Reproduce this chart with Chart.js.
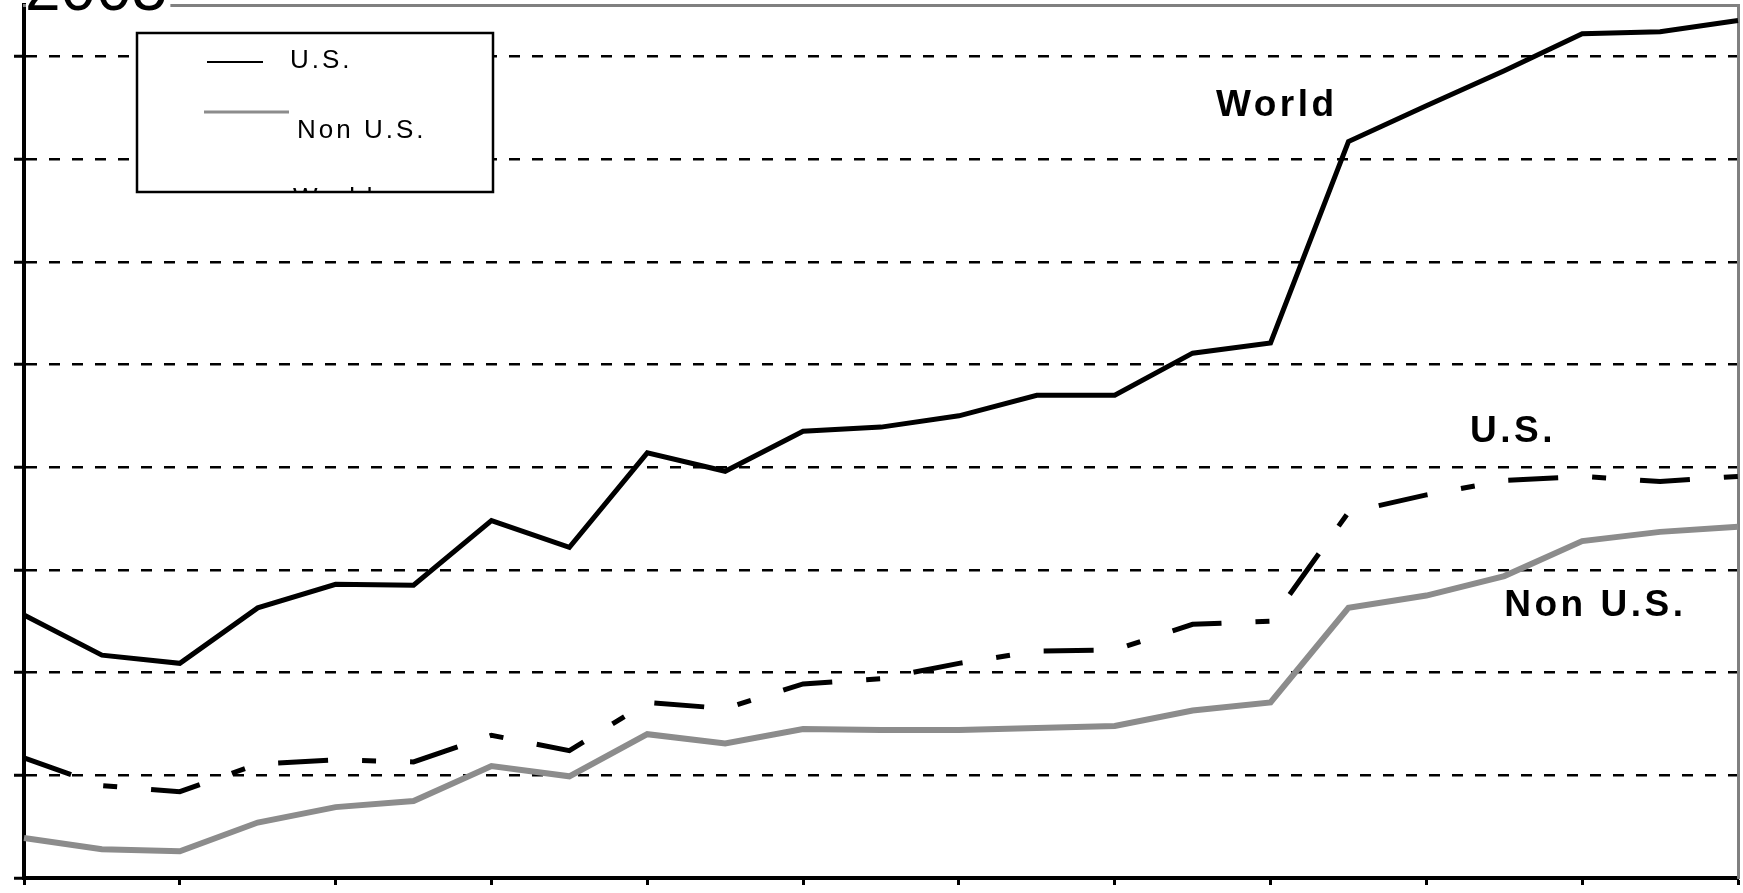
<!DOCTYPE html>
<html>
<head>
<meta charset="utf-8">
<script src="https://cdn.jsdelivr.net/npm/chart.js@4.4.1/dist/chart.umd.min.js"></script>
<style>
  html, body { margin: 0; padding: 0; background: #fff; overflow: hidden; }
  canvas { display: block; }
</style>
</head>
<body>
<canvas id="grafica" width="1743" height="893"></canvas>
<script>
// values (one gridline = 10 units, no labels shown)
const years = ['1983', '1984', '1985', '1986', '1987', '1988', '1989', '1990', '1991', '1992', '1993', '1994',
  '1995', '1996', '1997', '1998', '1999', '2000', '2001', '2002', '2003', '2004', '2005'];
const usValues = [11.7, 9.0, 8.4, 11.1, 11.5, 11.3, 13.9, 12.4, 17.1, 16.5, 18.9, 19.4,
  20.9, 22.1, 22.2, 24.7, 25.0, 35.6, 37.3, 38.7, 39.1, 38.6, 39.1];
const nonUsValues = [3.9, 2.8, 2.6, 5.4, 6.9, 7.5, 10.9, 9.9, 14.0, 13.1, 14.5, 14.4,
  14.4, 14.6, 14.8, 16.3, 17.1, 26.3, 27.5, 29.4, 32.8, 33.7, 34.2];
const worldValues = [25.6, 21.7, 20.9, 26.3, 28.6, 28.5, 34.8, 32.2, 41.4, 39.6, 43.5, 43.9,
  45.0, 47.0, 47.0, 51.1, 52.1, 71.7, 75.2, 78.6, 82.2, 82.4, 83.5];
const seriesNames = ['U.S.', 'Non U.S.', 'World'];
const title = '2005';

// legend box + labels on the lines
const overlay = {
  id: 'overlay',
  afterDraw(chart, args, opts) {
    const { ctx, chartArea, scales: { x, y } } = chart;
    const ds = chart.data.datasets;

    // cut-off title at the top
    ctx.save();
    ctx.font = '64px "Liberation Sans", Arial, sans-serif';
    const tw = ctx.measureText(opts.title).width;
    ctx.fillStyle = '#fff';
    ctx.fillRect(chartArea.left + 2, 0, tw + 2, chartArea.top + 3);
    ctx.fillStyle = '#000';
    ctx.textBaseline = 'alphabetic';
    ctx.fillText(opts.title, chartArea.left + 1, chartArea.top + 5);
    ctx.restore();

    // boxed legend
    const b = opts.box;
    ctx.save();
    ctx.fillStyle = '#fff';
    ctx.fillRect(b.left, b.top, b.right - b.left, b.bottom - b.top);
    ctx.beginPath();
    ctx.rect(b.left, b.top, b.right - b.left, b.bottom - b.top);
    ctx.clip();
    ctx.font = '26px "Liberation Sans", Arial, sans-serif';
    ctx.letterSpacing = '3px';
    ctx.textBaseline = 'middle';
    ctx.fillStyle = '#000';
    opts.entries.forEach((e, i) => {
      if (e.line) {
        ctx.strokeStyle = ds[i].borderColor;
        ctx.lineWidth = e.line.w;
        ctx.beginPath();
        ctx.moveTo(e.line.x1, e.line.y);
        ctx.lineTo(e.line.x2, e.line.y);
        ctx.stroke();
      }
      ctx.fillText(ds[i].label, e.tx, e.ty);
    });
    ctx.restore();
    ctx.save();
    ctx.strokeStyle = '#000';
    ctx.lineWidth = 2.5;
    ctx.strokeRect(b.left, b.top, b.right - b.left, b.bottom - b.top);
    ctx.restore();

    // names next to the lines
    ctx.save();
    ctx.font = 'bold 37px "Liberation Sans", Arial, sans-serif';
    ctx.letterSpacing = '3.5px';
    ctx.textBaseline = 'middle';
    ctx.fillStyle = '#000';
    opts.tags.forEach(t => {
      ctx.fillText(ds[t.ds].label, x.getPixelForValue(t.at), y.getPixelForValue(t.val));
    });
    ctx.restore();
  }
};

const ctx = document.getElementById('grafica').getContext('2d');
const chart = new Chart(ctx, {
  type: 'line',
  data: {
    labels: years,
    datasets: [
      {
        label: seriesNames[0],
        data: usValues,
        borderColor: '#000',
        borderWidth: 5,
        borderDash: [50, 34, 14, 34],
        borderCapStyle: 'butt'
      },
      {
        label: seriesNames[1],
        data: nonUsValues,
        borderColor: '#8c8c8c',
        borderWidth: 6
      },
      {
        label: seriesNames[2],
        data: worldValues,
        borderColor: '#000',
        borderWidth: 5
      }
    ]
  },
  options: {
    responsive: false,
    animation: false,
    devicePixelRatio: 1,
    layout: { padding: { top: 2, right: 2, left: 0, bottom: 0 } },
    elements: {
      point: { radius: 0 },
      line: { tension: 0, fill: false }
    },
    scales: {
      x: {
        type: 'category',
        offset: false,
        ticks: { display: false },
        grid: {
          drawOnChartArea: false,
          tickLength: 7,
          tickWidth: 3,
          tickColor: c => (c.index % 2 === 0 ? '#000' : 'rgba(0,0,0,0)')
        },
        border: { color: '#000', width: 4 },
        afterFit: s => { s.height = 15; }
      },
      y: {
        min: 0,
        max: 85,
        ticks: { display: false, stepSize: 10 },
        afterBuildTicks: s => { s.ticks = s.ticks.filter(t => t.value % 10 === 0); },
        grid: {
          color: c => (c.tick && c.tick.value === 0 ? 'rgba(0,0,0,0)' : '#000'),
          lineWidth: 2.5,
          tickLength: 10,
          tickWidth: 3,
          tickColor: '#000'
        },
        border: { color: '#000', width: 4, dash: [11, 12] },
        afterFit: s => { s.width = 24; }
      },
      xTop: {
        type: 'linear',
        position: 'top',
        min: 0,
        max: 1,
        ticks: { display: false },
        grid: { drawOnChartArea: false, drawTicks: false },
        border: { color: '#808080', width: 3 },
        afterFit: s => { s.height = 3; }
      },
      yRight: {
        type: 'linear',
        position: 'right',
        min: 0,
        max: 1,
        ticks: { display: false },
        grid: { drawOnChartArea: false, drawTicks: false },
        border: { color: '#808080', width: 3 },
        afterFit: s => { s.width = 3; }
      }
    },
    plugins: {
      legend: { display: false },
      tooltip: { enabled: false },
      overlay: {
        title: title,
        box: { left: 137, top: 33, right: 493, bottom: 192 },
        entries: [
          { line: { x1: 207, x2: 263, y: 62, w: 2 }, tx: 290, ty: 61 },
          { line: { x1: 204, x2: 289, y: 112, w: 3 }, tx: 297, ty: 131 },
          { tx: 293, ty: 199 }
        ],
        tags: [
          { ds: 2, at: 15.3, val: 75.2 },
          { ds: 0, at: 18.56, val: 43.4 },
          { ds: 1, at: 19.0, val: 26.5 }
        ]
      }
    }
  },
  plugins: [overlay]
});
</script>
</body>
</html>
